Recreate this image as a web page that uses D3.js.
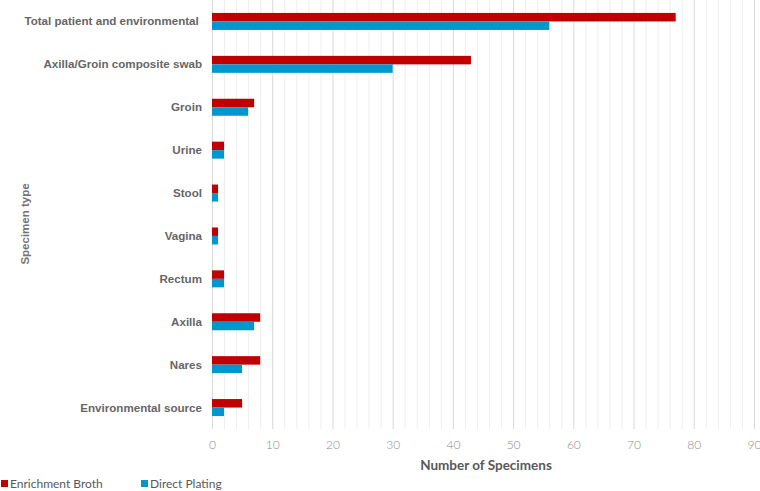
<!DOCTYPE html>
<html><head><meta charset="utf-8">
<script src="https://cdn.jsdelivr.net/npm/d3@7"></script>
<style>body{margin:0;background:#fff}svg{display:block}</style>
</head><body>
<script>
const categories = ["Total patient and environmental ","Axilla/Groin composite swab","Groin","Urine","Stool","Vagina","Rectum","Axilla","Nares","Environmental source"];
const enrichmentBroth = [77,43,7,2,1,1,2,8,8,5];
const directPlating = [56,30,6,2,1,1,2,7,5,2];
const seriesNames = ["Enrichment Broth","Direct Plating"];
const seriesColors = ["#C00000","#0098CC"];
const xTicks = [0,10,20,30,40,50,60,70,80,90];

const W=760,H=491;
const condensed="Lato, 'DejaVu Sans Condensed', sans-serif";
const svg=d3.select("body").append("svg").attr("width",W).attr("height",H);
const x=d3.scaleLinear().domain([0,90]).range([212,754]);
const y=d3.scaleBand().domain(categories).range([0,429]).paddingInner(0).paddingOuter(0);
const barH=8.5;

// gridlines
const g=svg.append("g");
g.selectAll("line.minor").data(d3.range(0,91,2).filter(v=>v%10!==0)).join("line")
 .attr("x1",d=>x(d)+0.5).attr("x2",d=>x(d)+0.5).attr("y1",0).attr("y2",429)
 .attr("stroke","#eeeeee").attr("stroke-width",1);
g.selectAll("line.major").data(xTicks).join("line")
 .attr("x1",d=>x(d)+0.5).attr("x2",d=>x(d)+0.5).attr("y1",0).attr("y2",429)
 .attr("stroke","#d9d9d9").attr("stroke-width",1);

// bars
const series=[enrichmentBroth,directPlating];
series.forEach((vals,si)=>{
  svg.append("g").selectAll("rect").data(categories).join("rect")
   .attr("x",x(0)).attr("width",(d,i)=>x(vals[i])-x(0))
   .attr("y",d=>y(d)+y.bandwidth()/2-barH+si*barH).attr("height",barH)
   .attr("fill",seriesColors[si]);
});

// category labels
svg.append("g").selectAll("text").data(categories).join("text")
 .attr("x",202).attr("y",d=>y(d)+y.bandwidth()/2+4)
 .attr("text-anchor","end").style("white-space","pre")
 .attr("font-family","Liberation Sans, Arial, sans-serif").attr("font-weight","bold")
 .attr("font-size",11.6).attr("fill","#666666").text(d=>d);

// x axis tick labels
const ax=svg.append("g").attr("transform","translate(0,429)")
 .call(d3.axisBottom(x).tickValues(xTicks).tickSize(0).tickPadding(11));
ax.select(".domain").remove();
ax.selectAll("text").attr("font-family",condensed).attr("font-weight",300)
 .attr("font-size",12).attr("fill","#8c8c8c");

// axis titles
svg.append("text").attr("x",486).attr("y",470).attr("text-anchor","middle")
 .attr("font-family",condensed).attr("font-weight","bold")
 .attr("font-size",13.5).attr("fill","#595959").text("Number of Specimens");
svg.append("text").attr("transform","translate(29,224) rotate(-90)").attr("text-anchor","middle")
 .attr("font-family","Liberation Sans, Arial, sans-serif").attr("font-weight","bold")
 .attr("font-size",11.5).attr("fill","#737373").text("Specimen type");

// legend
const legX=[1,141];
const lg=svg.append("g").selectAll("g").data(seriesNames).join("g")
 .attr("transform",(d,i)=>`translate(${legX[i]},488)`);
lg.append("rect").attr("x",0).attr("y",-8).attr("width",7).attr("height",7).attr("fill",(d,i)=>seriesColors[i]);
lg.append("text").attr("x",9).attr("y",0).attr("font-family",condensed)
 .attr("font-size",12).attr("fill","#595959").text(d=>d);
</script>
</body></html>
